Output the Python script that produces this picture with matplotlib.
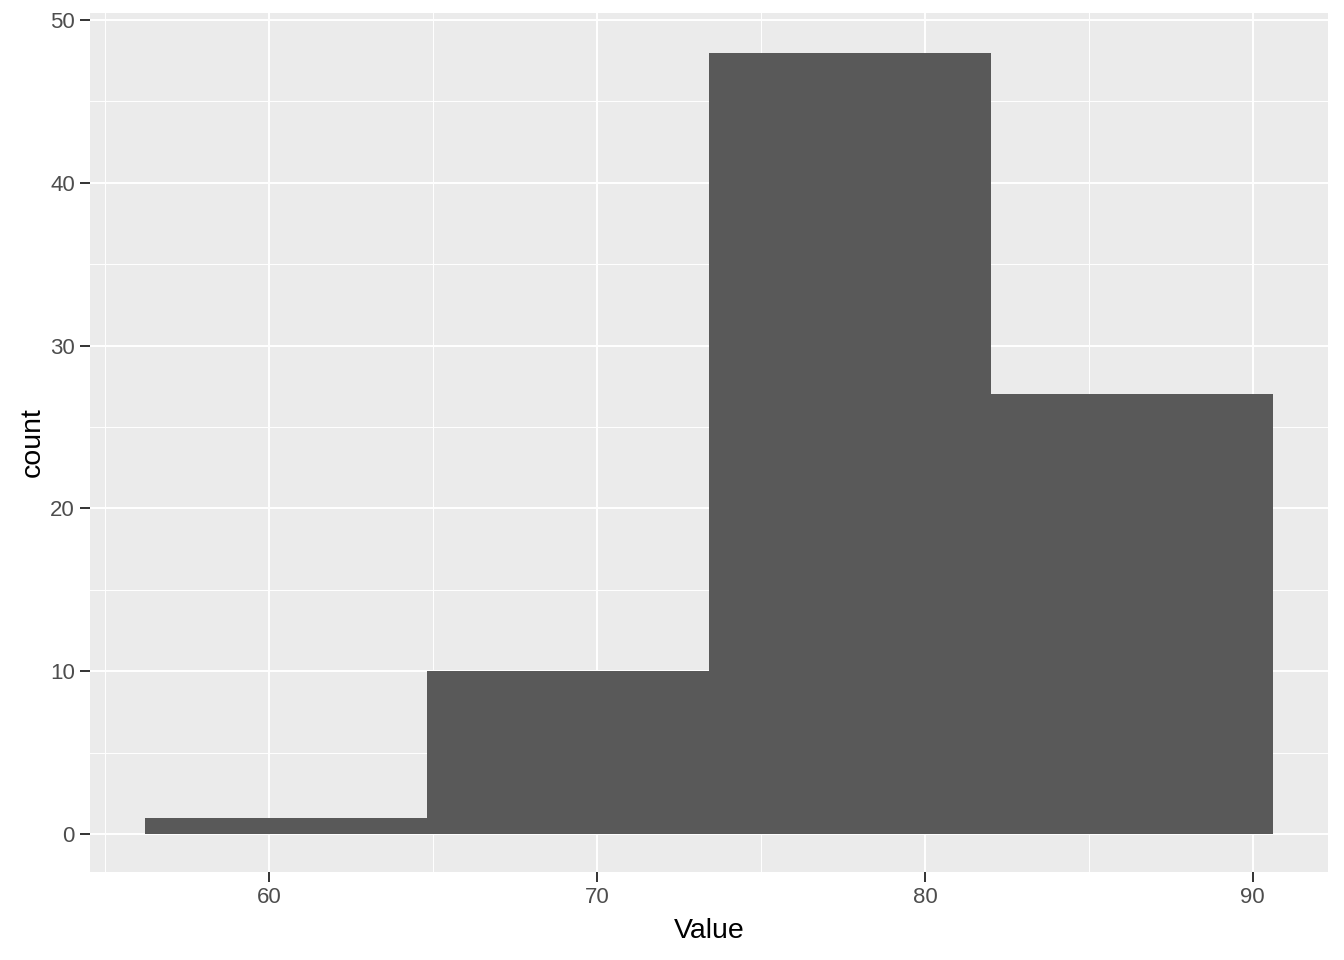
import matplotlib
matplotlib.use("Agg")
import matplotlib.pyplot as plt
import numpy as np

# histogram bins
bin_edges = [56.22, 64.82, 73.41, 82.01, 90.61]
counts = [1, 10, 48, 27]
x_ticks = [60, 70, 80, 90]
y_ticks = [0, 10, 20, 30, 40, 50]

plt.rcParams["font.family"] = ["Liberation Sans", "DejaVu Sans"]

fig = plt.figure(figsize=(13.44, 9.6), dpi=100)
ax = fig.add_axes([0.067, 0.0917, 0.921, 0.8948])
ax.set_facecolor("#EBEBEB")

lefts = np.array(bin_edges[:-1])
widths = np.diff(bin_edges)
ax.bar(lefts, counts, width=widths, align="edge", color="#595959", zorder=3)

ax.set_xlim(54.54, 92.29)
ax.set_ylim(-2.33, 50.43)
ax.set_xticks(x_ticks)
ax.set_yticks(y_ticks)
ax.set_xticks([55, 65, 75, 85], minor=True)
ax.set_yticks([5, 15, 25, 35, 45], minor=True)

ax.grid(which="major", color="white", linewidth=1.4, zorder=0)
ax.grid(which="minor", color="white", linewidth=0.7, zorder=0)
ax.set_axisbelow(True)

for s in ax.spines.values():
    s.set_visible(False)

ax.tick_params(which="major", length=7, width=1.4, color="#333333",
               labelsize=16, labelcolor="#4D4D4D", pad=4)
ax.tick_params(which="minor", length=0)

ax.set_xlabel("Value", fontsize=20.5, color="black", labelpad=7)
ax.set_ylabel("count", fontsize=20.5, color="black", labelpad=3)

fig.savefig("out.png", dpi=100)
